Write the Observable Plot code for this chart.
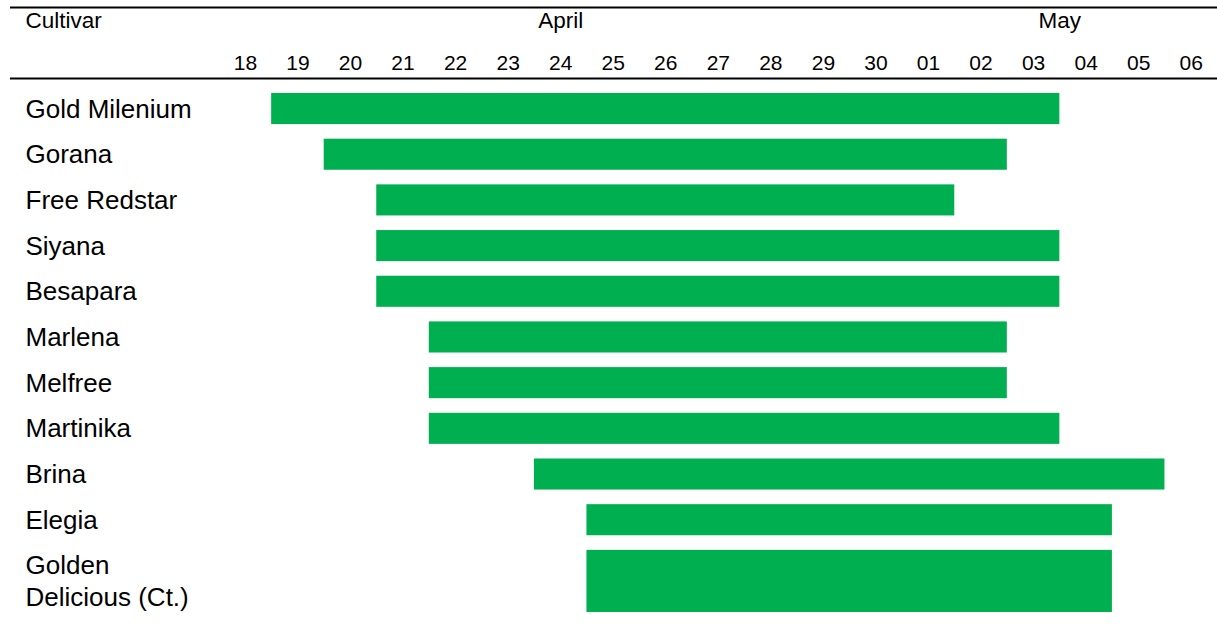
<!DOCTYPE html>
<html>
<head>
<meta charset="utf-8">
<script src="https://cdn.jsdelivr.net/npm/d3@7"></script>
<script src="https://cdn.jsdelivr.net/npm/@observablehq/plot@0.6"></script>
<style>
  html, body { margin: 0; padding: 0; background: #fff; }
  svg { font-family: "Liberation Sans", Arial, sans-serif; }
</style>
</head>
<body>
<div id="chart"></div>
<script>
// ---- data ----
const days = ["18","19","20","21","22","23","24","25","26","27","28","29","30","01","02","03","04","05","06"];
const months = ["April", "May"];
const monthDays = [
  ["18","19","20","21","22","23","24","25","26","27","28","29","30"],
  ["01","02","03","04","05","06"]
];
const cultivars = ["Gold Milenium","Gorana","Free Redstar","Siyana","Besapara","Marlena","Melfree","Martinika","Brina","Elegia","Golden\nDelicious (Ct.)"];
const startDays = ["19","20","21","21","21","22","22","22","24","25","25"];
const endDays   = ["03","02","01","03","03","02","02","03","05","04","04"];
const headerLabel = "Cultivar";

// ---- derived tables ----
const dayIndex = d => days.indexOf(d);
const gap = 0.47; // gap between rows, in line units
let acc = 0;
const rows = cultivars.map((name, i) => {
  const lines = name.split("\n").length;
  const top = acc;
  acc += lines + gap;
  return {name, top, bottom: top + lines, mid: top + lines / 2,
          x1: dayIndex(startDays[i]) - 0.5, x2: dayIndex(endDays[i]) + 0.5};
});
const totalY = acc - gap;
const monthRows = months.map((m, i) => ({
  name: m,
  x: d3.mean(monthDays[i], dayIndex)
}));

const labelCols = 3.97; // width of label column, in day units
const chart = Plot.plot({
  width: 1217,
  height: 625,
  marginLeft: 10,
  marginRight: 0,
  marginTop: 93,
  marginBottom: 13,
  x: {domain: [-0.5 - labelCols, days.length - 0.5], axis: null},
  y: {domain: [0, totalY], reverse: true, axis: null},
  marks: [
    Plot.ruleY([0], {dy: -15, stroke: "black", strokeWidth: 2}),
    Plot.ruleY([0], {dy: -86, stroke: "black", strokeWidth: 2}),
    Plot.axisX(d3.range(days.length), {
      anchor: "top", tickSize: 0, tickPadding: 24,
      tickFormat: i => days[i], fontSize: 21, fill: "black", label: null
    }),
    Plot.text(monthRows, {x: "x", text: "name", frameAnchor: "top", dy: -73,
      lineAnchor: "middle", fontSize: 22.5, fill: "black"}),
    Plot.text([headerLabel], {frameAnchor: "top-left", dx: 15, dy: -73,
      textAnchor: "start", lineAnchor: "middle", fontSize: 22.5, fill: "black"}),
    Plot.rect(rows, {x1: "x1", x2: "x2", y1: "top", y2: "bottom", fill: "#00B050"}),
    Plot.text(rows, {y: "mid", text: "name", frameAnchor: "left", dx: 15, dy: -1.5,
      textAnchor: "start", lineAnchor: "middle", lineHeight: 1.2,
      fontSize: 26, fill: "black"})
  ]
});
document.getElementById("chart").appendChild(chart);
</script>
</body>
</html>
